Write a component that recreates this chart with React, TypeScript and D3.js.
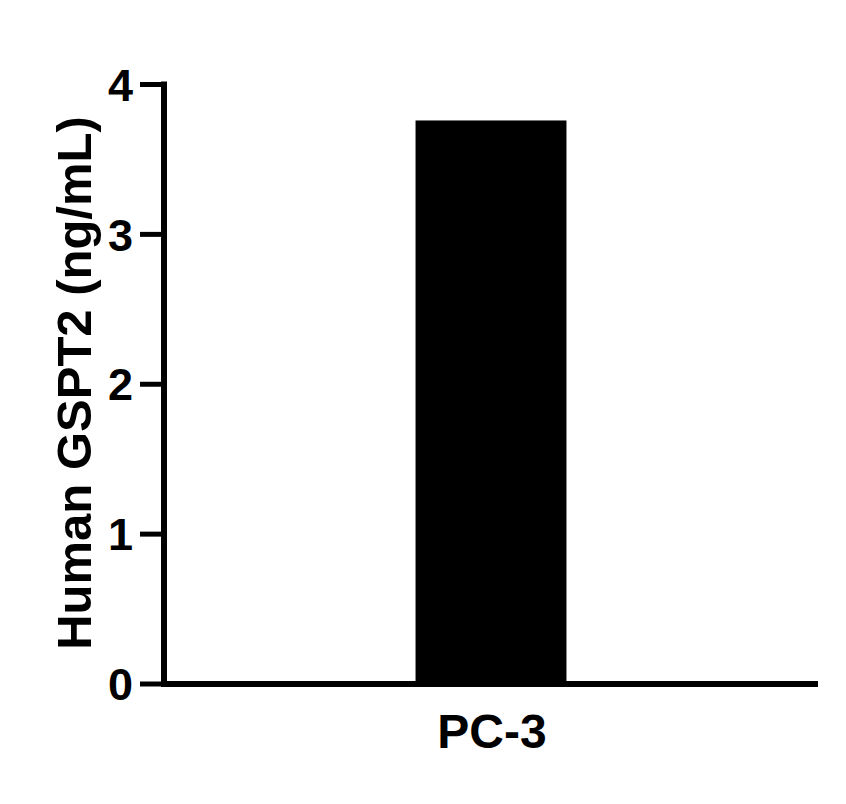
import * as d3 from "d3";
import React from "react";

const categories = ["PC-3"];
const values = [3.76];
const yTicks = [0, 1, 2, 3, 4];
const yLabel = "Human GSPT2 (ng/mL)";

const W = 846;
const H = 804;
const margin = { top: 84.5, right: 28, bottom: 120, left: 164 };
const font = "'Liberation Sans', Arial, Helvetica, sans-serif";

export default function App() {
  const x = d3
    .scaleBand<string>()
    .domain(categories)
    .range([margin.left, W - margin.right])
    .padding(0.625);

  const y = d3.scaleLinear().domain([0, 4]).range([H - margin.bottom, margin.top]);
  const y0 = y(0);

  return (
    <svg
      width={W}
      height={H}
      style={{ position: "absolute", left: 0, top: 0, background: "#fff" }}
      fontFamily={font}
    >
      {/* bars */}
      {categories.map((c, i) => (
        <rect
          key={c}
          x={x(c)}
          y={y(values[i])}
          width={x.bandwidth()}
          height={y0 - y(values[i])}
          fill="#000"
        />
      ))}

      {/* y axis */}
      <line x1={margin.left} x2={margin.left} y1={y(4) - 3} y2={y0 + 3} stroke="#000" strokeWidth={6} />
      {yTicks.map((t) => (
        <g key={t}>
          <line x1={margin.left - 24} x2={margin.left} y1={y(t)} y2={y(t)} stroke="#000" strokeWidth={5} />
          <text
            x={133}
            y={y(t)}
            dy="0.36em"
            textAnchor="end"
            fontSize={45}
            fontWeight="bold"
          >
            {t}
          </text>
        </g>
      ))}

      {/* x axis */}
      <line x1={margin.left - 3} x2={W - margin.right} y1={y0} y2={y0} stroke="#000" strokeWidth={6} />
      {categories.map((c) => (
        <text
          key={c}
          x={(x(c) ?? 0) + x.bandwidth() / 2 + 1}
          y={748}
          textAnchor="middle"
          fontSize={48}
          fontWeight="bold"
        >
          {c}
        </text>
      ))}

      {/* y label */}
      <text
        transform={`translate(91,383) rotate(-90)`}
        textAnchor="middle"
        fontSize={49}
        fontWeight="bold"
      >
        {yLabel}
      </text>
    </svg>
  );
}
